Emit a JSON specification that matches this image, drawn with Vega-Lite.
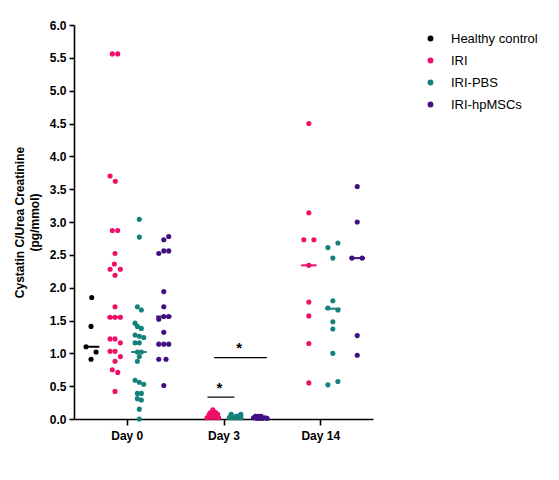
{
  "$schema": "https://vega.github.io/schema/vega-lite/v6.json",
  "autosize": {"type": "none"},
  "padding": {"left": 74, "top": 25, "right": 186, "bottom": 61},
  "width": 299,
  "height": 394,
  "background": "white",
  "config": {
    "view": {"stroke": null},
    "font": "Liberation Sans",
    "axis": {
      "grid": false,
      "domainColor": "black",
      "domainWidth": 1.6,
      "tickColor": "black",
      "tickWidth": 1.6,
      "tickSize": 5,
      "labelFont": "Liberation Sans",
      "labelFontWeight": "bold",
      "labelFontSize": 12,
      "labelColor": "black",
      "labelOverlap": false,
      "titleFont": "Liberation Sans",
      "titleFontWeight": "bold",
      "titleFontSize": 12,
      "titleColor": "black"
    },
    "legend": {
      "labelFont": "Liberation Sans",
      "labelFontSize": 13,
      "labelColor": "black",
      "symbolType": "circle",
      "symbolSize": 34,
      "symbolStrokeWidth": 0,
      "rowPadding": 8,
      "labelOffset": 14
    }
  },
  "datasets": {
    "points": [
      {"x": -0.362, "y": 1.85, "group": "Healthy control"},
      {"x": -0.369, "y": 1.41, "group": "Healthy control"},
      {"x": -0.421, "y": 1.10, "group": "Healthy control"},
      {"x": -0.317, "y": 1.02, "group": "Healthy control"},
      {"x": -0.369, "y": 0.91, "group": "Healthy control"},

      {"x": -0.149, "y": 5.56, "group": "IRI"},
      {"x": -0.093, "y": 5.56, "group": "IRI"},
      {"x": -0.172, "y": 3.70, "group": "IRI"},
      {"x": -0.118, "y": 3.62, "group": "IRI"},
      {"x": -0.149, "y": 2.87, "group": "IRI"},
      {"x": -0.093, "y": 2.87, "group": "IRI"},
      {"x": -0.121, "y": 2.52, "group": "IRI"},
      {"x": -0.128, "y": 2.36, "group": "IRI"},
      {"x": -0.172, "y": 2.28, "group": "IRI"},
      {"x": -0.066, "y": 2.28, "group": "IRI"},
      {"x": -0.121, "y": 2.19, "group": "IRI"},
      {"x": -0.121, "y": 1.71, "group": "IRI"},
      {"x": -0.172, "y": 1.55, "group": "IRI"},
      {"x": -0.121, "y": 1.55, "group": "IRI"},
      {"x": -0.066, "y": 1.55, "group": "IRI"},
      {"x": -0.172, "y": 1.22, "group": "IRI"},
      {"x": -0.121, "y": 1.22, "group": "IRI"},
      {"x": -0.066, "y": 1.16, "group": "IRI"},
      {"x": -0.172, "y": 1.03, "group": "IRI"},
      {"x": -0.121, "y": 1.03, "group": "IRI"},
      {"x": -0.066, "y": 0.95, "group": "IRI"},
      {"x": -0.121, "y": 0.88, "group": "IRI"},
      {"x": -0.149, "y": 0.75, "group": "IRI"},
      {"x": -0.093, "y": 0.71, "group": "IRI"},
      {"x": -0.121, "y": 0.42, "group": "IRI"},

      {"x": 0.130, "y": 3.04, "group": "IRI-PBS"},
      {"x": 0.130, "y": 2.77, "group": "IRI-PBS"},
      {"x": 0.110, "y": 1.71, "group": "IRI-PBS"},
      {"x": 0.151, "y": 1.66, "group": "IRI-PBS"},
      {"x": 0.086, "y": 1.46, "group": "IRI-PBS"},
      {"x": 0.110, "y": 1.41, "group": "IRI-PBS"},
      {"x": 0.151, "y": 1.38, "group": "IRI-PBS"},
      {"x": 0.086, "y": 1.28, "group": "IRI-PBS"},
      {"x": 0.130, "y": 1.26, "group": "IRI-PBS"},
      {"x": 0.176, "y": 1.24, "group": "IRI-PBS"},
      {"x": 0.086, "y": 1.16, "group": "IRI-PBS"},
      {"x": 0.130, "y": 1.16, "group": "IRI-PBS"},
      {"x": 0.110, "y": 1.02, "group": "IRI-PBS"},
      {"x": 0.151, "y": 1.02, "group": "IRI-PBS"},
      {"x": 0.130, "y": 0.95, "group": "IRI-PBS"},
      {"x": 0.110, "y": 0.88, "group": "IRI-PBS"},
      {"x": 0.086, "y": 0.59, "group": "IRI-PBS"},
      {"x": 0.130, "y": 0.56, "group": "IRI-PBS"},
      {"x": 0.176, "y": 0.53, "group": "IRI-PBS"},
      {"x": 0.110, "y": 0.39, "group": "IRI-PBS"},
      {"x": 0.151, "y": 0.39, "group": "IRI-PBS"},
      {"x": 0.110, "y": 0.31, "group": "IRI-PBS"},
      {"x": 0.151, "y": 0.29, "group": "IRI-PBS"},
      {"x": 0.130, "y": 0.15, "group": "IRI-PBS"},
      {"x": 0.130, "y": 0.00, "group": "IRI-PBS"},

      {"x": 0.383, "y": 2.73, "group": "IRI-hpMSCs"},
      {"x": 0.434, "y": 2.78, "group": "IRI-hpMSCs"},
      {"x": 0.331, "y": 2.52, "group": "IRI-hpMSCs"},
      {"x": 0.383, "y": 2.56, "group": "IRI-hpMSCs"},
      {"x": 0.434, "y": 2.56, "group": "IRI-hpMSCs"},
      {"x": 0.383, "y": 1.94, "group": "IRI-hpMSCs"},
      {"x": 0.383, "y": 1.71, "group": "IRI-hpMSCs"},
      {"x": 0.331, "y": 1.52, "group": "IRI-hpMSCs"},
      {"x": 0.383, "y": 1.56, "group": "IRI-hpMSCs"},
      {"x": 0.434, "y": 1.56, "group": "IRI-hpMSCs"},
      {"x": 0.383, "y": 1.32, "group": "IRI-hpMSCs"},
      {"x": 0.331, "y": 1.14, "group": "IRI-hpMSCs"},
      {"x": 0.383, "y": 1.14, "group": "IRI-hpMSCs"},
      {"x": 0.434, "y": 1.14, "group": "IRI-hpMSCs"},
      {"x": 0.331, "y": 0.91, "group": "IRI-hpMSCs"},
      {"x": 0.406, "y": 0.91, "group": "IRI-hpMSCs"},
      {"x": 0.383, "y": 0.51, "group": "IRI-hpMSCs"},

      {"x": 0.83, "y": 0.02, "group": "IRI"},
      {"x": 0.86, "y": 0.03, "group": "IRI"},
      {"x": 0.89, "y": 0.02, "group": "IRI"},
      {"x": 0.92, "y": 0.03, "group": "IRI"},
      {"x": 0.95, "y": 0.02, "group": "IRI"},
      {"x": 0.85, "y": 0.06, "group": "IRI"},
      {"x": 0.88, "y": 0.07, "group": "IRI"},
      {"x": 0.91, "y": 0.06, "group": "IRI"},
      {"x": 0.94, "y": 0.07, "group": "IRI"},
      {"x": 0.86, "y": 0.09, "group": "IRI"},
      {"x": 0.87, "y": 0.10, "group": "IRI"},
      {"x": 0.92, "y": 0.10, "group": "IRI"},
      {"x": 0.90, "y": 0.11, "group": "IRI"},
      {"x": 0.89, "y": 0.14, "group": "IRI"},

      {"x": 1.06, "y": 0.02, "group": "IRI-PBS"},
      {"x": 1.09, "y": 0.02, "group": "IRI-PBS"},
      {"x": 1.12, "y": 0.02, "group": "IRI-PBS"},
      {"x": 1.15, "y": 0.02, "group": "IRI-PBS"},
      {"x": 1.18, "y": 0.02, "group": "IRI-PBS"},
      {"x": 1.07, "y": 0.04, "group": "IRI-PBS"},
      {"x": 1.13, "y": 0.04, "group": "IRI-PBS"},
      {"x": 1.16, "y": 0.05, "group": "IRI-PBS"},
      {"x": 1.08, "y": 0.07, "group": "IRI-PBS"},
      {"x": 1.18, "y": 0.07, "group": "IRI-PBS"},

      {"x": 1.31, "y": 0.02, "group": "IRI-hpMSCs"},
      {"x": 1.34, "y": 0.01, "group": "IRI-hpMSCs"},
      {"x": 1.37, "y": 0.01, "group": "IRI-hpMSCs"},
      {"x": 1.40, "y": 0.01, "group": "IRI-hpMSCs"},
      {"x": 1.43, "y": 0.02, "group": "IRI-hpMSCs"},
      {"x": 1.45, "y": 0.01, "group": "IRI-hpMSCs"},
      {"x": 1.33, "y": 0.04, "group": "IRI-hpMSCs"},
      {"x": 1.36, "y": 0.04, "group": "IRI-hpMSCs"},
      {"x": 1.39, "y": 0.04, "group": "IRI-hpMSCs"},

      {"x": 1.882, "y": 4.50, "group": "IRI"},
      {"x": 1.882, "y": 3.14, "group": "IRI"},
      {"x": 1.830, "y": 2.73, "group": "IRI"},
      {"x": 1.934, "y": 2.73, "group": "IRI"},
      {"x": 1.882, "y": 2.34, "group": "IRI"},
      {"x": 1.882, "y": 1.78, "group": "IRI"},
      {"x": 1.882, "y": 1.57, "group": "IRI"},
      {"x": 1.882, "y": 1.15, "group": "IRI"},
      {"x": 1.882, "y": 0.55, "group": "IRI"},

      {"x": 2.079, "y": 2.61, "group": "IRI-PBS"},
      {"x": 2.182, "y": 2.68, "group": "IRI-PBS"},
      {"x": 2.130, "y": 2.45, "group": "IRI-PBS"},
      {"x": 2.130, "y": 1.80, "group": "IRI-PBS"},
      {"x": 2.079, "y": 1.69, "group": "IRI-PBS"},
      {"x": 2.182, "y": 1.66, "group": "IRI-PBS"},
      {"x": 2.130, "y": 1.48, "group": "IRI-PBS"},
      {"x": 2.130, "y": 1.37, "group": "IRI-PBS"},
      {"x": 2.130, "y": 1.00, "group": "IRI-PBS"},
      {"x": 2.079, "y": 0.52, "group": "IRI-PBS"},
      {"x": 2.182, "y": 0.57, "group": "IRI-PBS"},

      {"x": 2.382, "y": 3.54, "group": "IRI-hpMSCs"},
      {"x": 2.382, "y": 3.00, "group": "IRI-hpMSCs"},
      {"x": 2.327, "y": 2.45, "group": "IRI-hpMSCs"},
      {"x": 2.433, "y": 2.45, "group": "IRI-hpMSCs"},
      {"x": 2.382, "y": 1.27, "group": "IRI-hpMSCs"},
      {"x": 2.382, "y": 0.97, "group": "IRI-hpMSCs"}
    ],
    "medians": [
      {"x": -0.413, "x2": -0.283, "y": 1.10, "group": "Healthy control"},
      {"x": -0.201, "x2": -0.041, "y": 1.55, "group": "IRI"},
      {"x": 0.047, "x2": 0.207, "y": 1.02, "group": "IRI-PBS"},
      {"x": 0.303, "x2": 0.463, "y": 1.56, "group": "IRI-hpMSCs"},
      {"x": 1.802, "x2": 1.962, "y": 2.34, "group": "IRI"},
      {"x": 2.050, "x2": 2.210, "y": 1.68, "group": "IRI-PBS"},
      {"x": 2.302, "x2": 2.462, "y": 2.45, "group": "IRI-hpMSCs"}
    ],
    "sig": [
      {"x": 0.834, "x2": 1.113, "y": 0.333, "star": 0.958, "ys": 0.40},
      {"x": 0.903, "x2": 1.448, "y": 0.935, "star": 1.161, "ys": 1.01}
    ]
  },
  "layer": [
    {
      "data": {"name": "points"},
      "mark": {"type": "circle", "size": 26, "opacity": 1},
      "encoding": {
        "x": {
          "field": "x",
          "type": "quantitative",
          "scale": {"domain": [-0.545, 2.545], "nice": false, "zero": false},
          "axis": {
            "title": null,
            "values": [0, 1, 2],
            "tickCount": 3,
            "tickSize": 6,
            "labelPadding": 5,
            "labelExpr": "datum.value == 0 ? 'Day 0' : datum.value == 1 ? 'Day 3' : 'Day 14'"
          }
        },
        "y": {
          "field": "y",
          "type": "quantitative",
          "scale": {"domain": [0, 6], "nice": false},
          "axis": {
            "title": ["Cystatin C/Urea Creatinine", "(pg/mmol)"],
            "values": [0, 0.5, 1, 1.5, 2, 2.5, 3, 3.5, 4, 4.5, 5, 5.5, 6],
            "tickCount": 13,
            "format": ".1f",
            "labelPadding": 3,
            "titlePadding": 8,
            "titleLineHeight": 15
          }
        },
        "color": {
          "field": "group",
          "type": "nominal",
          "scale": {
            "domain": ["Healthy control", "IRI", "IRI-PBS", "IRI-hpMSCs"],
            "range": ["#000000", "#EE0F68", "#15827A", "#400F80"]
          },
          "legend": {"title": null, "orient": "none", "legendX": 350, "legendY": 7}
        }
      }
    },
    {
      "data": {"name": "medians"},
      "mark": {"type": "rule", "strokeWidth": 2},
      "encoding": {
        "x": {"field": "x", "type": "quantitative"},
        "x2": {"field": "x2"},
        "y": {"field": "y", "type": "quantitative"},
        "color": {"field": "group", "type": "nominal", "legend": null}
      }
    },
    {
      "data": {"name": "sig"},
      "mark": {"type": "rule", "color": "black", "strokeWidth": 1.2},
      "encoding": {
        "x": {"field": "x", "type": "quantitative"},
        "x2": {"field": "x2"},
        "y": {"field": "y", "type": "quantitative"}
      }
    },
    {
      "data": {"name": "sig"},
      "mark": {"type": "text", "text": "*", "fontSize": 15, "fontWeight": "bold", "baseline": "alphabetic", "color": "black"},
      "encoding": {
        "x": {"field": "star", "type": "quantitative"},
        "y": {"field": "ys", "type": "quantitative"}
      }
    }
  ]
}
